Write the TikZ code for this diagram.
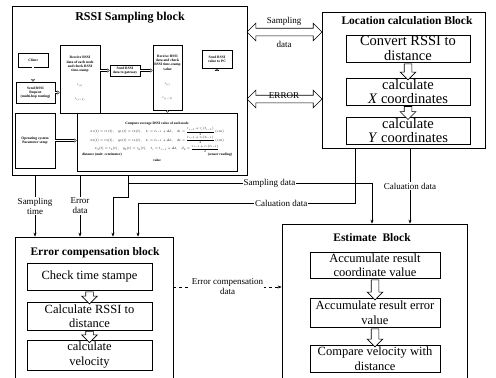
\documentclass[tikz,border=0pt]{standalone}
\usepackage{amsmath}
\usepackage{graphicx}
\usepackage{fontspec}
\setmainfont{Liberation Serif}
\usetikzlibrary{shapes.arrows,calc,arrows.meta}

\begin{document}
\begin{tikzpicture}[x=1pt,y=-1pt,
  block/.style={draw, line width=0.7pt},
  title/.style={font=\fontsize{11.5}{13}\selectfont\bfseries},
  box/.style={draw, line width=0.6pt, align=center, inner sep=1pt, font=\fontsize{12.5}{14.5}\selectfont},
  sbox/.style={draw, line width=0.5pt, align=center, inner sep=0.5pt, font=\fontsize{3.6}{4.2}\selectfont\bfseries},
  fat/.style={single arrow, draw, fill=white, line width=0.6pt, shape border rotate=270, inner sep=3.5pt, single arrow head extend=4pt, single arrow tip angle=90},
  wide/.style={double arrow, draw, line width=0.6pt, inner sep=3.5pt, double arrow head extend=5pt},
  dbl/.style={double, double distance=1.3pt, line width=0.4pt, -{Triangle[open,length=2.5pt,width=4pt]}},
  link/.style={line width=0.5pt},
  lab/.style={fill=white, inner sep=1pt, align=center, font=\fontsize{9}{10}\selectfont},
  >={Stealth[length=4pt,width=3pt]}]
\useasboundingbox (0,0) rectangle (496,378);
\clip (0,0) rectangle (496,378);

% outer blocks
\node[block, minimum width=235pt, minimum height=169pt] (rssi) at (129.5,90.5) {};
\node[block, minimum width=163pt, minimum height=136pt] (loc) at (403.5,80) {};
\node[block, minimum width=158pt, minimum height=146pt] (err) at (94,310) {};
\node[block, minimum width=185pt, minimum height=159pt] (est) at (374.5,303.5) {};
\node[title, font=\fontsize{12}{13}\selectfont\bfseries] (rssiT) at (130,18) {RSSI Sampling block};
\node[title] (locT) at (407,21) {Location calculation Block};
\node[title] (errT) at (95,253) {Error compensation block};
\node[title] (estT) at (372,238) {Estimate\ \ Block};

% RSSI sampling block, inside
\node[sbox, minimum width=30pt, minimum height=14pt] (c1) at (33,60) {Client};
\node[sbox, minimum width=39pt, minimum height=21pt] (c2) at (35.5,92.5) {Send RSSI\\Request\\(multi-hop routing)};
\node[sbox, minimum width=40pt, minimum height=68pt] (c3) at (80,79) {Receive RSSI\\data of each node\\and check RSSI\\time-stamp\\[10pt]\scalebox{0.5}{$t_{(i)}$}\\[10pt]\scalebox{0.5}{$t_{(i-1)}$}};
\node[sbox, minimum width=30pt, minimum height=11pt] (c4) at (125,70.5) {Send RSSI\\data to gateway};
\node[sbox, minimum width=29pt, minimum height=65pt] (c5) at (167.5,77.5) {Receive RSSI\\data and check\\RSSI time-stamp\\value\\[10pt]\scalebox{0.5}{$t_{(i)}$}\\[10pt]\scalebox{0.5}{$t_{(i-1)}$}};
\node[sbox, minimum width=30pt, minimum height=18pt] (c6) at (217,59) {Send RSSI\\value to PC};
\node[sbox, minimum width=40pt, minimum height=55pt] (c7) at (35,140.5) {Operating system\\Parameter setup};
\node[sbox, minimum width=160pt, minimum height=58pt, inner sep=1pt] (c8) at (157,142) {\scalebox{0.5}{\fontsize{7}{9}\selectfont
  \begin{tabular}{@{}c@{}}
  \textbf{Compute average RSSI value of each node}\\[3pt]
  $x_1(t)=r_1(t),\quad y_1(t)=r_2(t),\quad t_i=t_{i-1}+\Delta t,\quad d_1=\dfrac{r_{i-1}+r_i(t_{i-1})}{2}\;(cm)$\\[4pt]
  $x_2(t)=r_3(t),\quad y_2(t)=r_4(t),\quad t_i=t_{i-1}+\Delta t,\quad d_2=\dfrac{r_{i-1}+r_i(t_{i-1})}{2}\;(cm)$\\[4pt]
  $x_3(t)=r_5(t),\quad y_3(t)=r_6(t),\quad t_i=t_{i-1}+\Delta t,\quad d_3=\dfrac{r_{i-1}+r_i(t_{i-1})}{2}$\\
  \makebox[300pt]{\textbf{distance (unit: centimeter)}\hfill\textbf{(sensor reading)}}\\[3pt]
  \textbf{value}
  \end{tabular}}};
\draw[dbl] (c1.south) -- (c1.south |- c2.north);
\draw[dbl] (c2.east) -- (c2.east -| c3.west);
\draw[dbl] (c3.east |- c4.west) -- (c4.west);
\draw[dbl] (c4.east) -- (c4.east -| c5.west);
\draw[dbl] (c5.south) -- (c5.south |- c8.north);
\draw[dbl] (c6.south |- c8.north) -- (c6.south);
\draw[dbl] (c7.east) -- (c7.east -| c8.west);

% location calculation block, inside
\node[box, font=\fontsize{14.5}{14.5}\selectfont, minimum width=124pt, minimum height=27pt] (conv) at (408,48.5) {Convert RSSI to\\distance};
\node[box, font=\fontsize{14.5}{14.5}\selectfont, minimum width=124pt, minimum height=27pt] (calx) at (408,91.5) {calculate\\\textit{X} coordinates};
\node[box, font=\fontsize{14.5}{14.5}\selectfont, minimum width=124pt, minimum height=25pt] (caly) at (408,130.5) {calculate\\\textit{Y} coordinates};
\node[fat, minimum height=16pt] (l1) at ($(conv.south)!.5!(calx.north)$) {};
\node[fat, minimum height=13pt] (l2) at ($(calx.south)!.5!(caly.north)$) {};

% error compensation block, inside
\node[box, minimum width=125pt, minimum height=27pt] (chk) at (89.5,276.5) {Check time stampe};
\node[box, minimum width=125pt, minimum height=28pt] (crd) at (89.5,316) {Calculate RSSI to\\distance};
\node[box, minimum width=125pt, minimum height=30pt] (vel) at (89.5,355) {calculate\\velocity};
\node[fat, minimum height=12pt] (e1) at ($(chk.south)!.5!(crd.north)$) {};
\node[fat, minimum height=10pt] (e2) at ($(crd.south)!.5!(vel.north)$) {};

% estimate block, inside
\node[box, minimum width=130pt, minimum height=26pt] (acc) at (375,265) {Accumulate result\\coordinate value};
\node[box, minimum width=130pt, minimum height=29pt] (accerr) at (375,312.5) {Accumulate result error\\value};
\node[box, minimum width=130pt, minimum height=27pt] (cmp) at (375,358.5) {Compare velocity with\\distance};
\node[fat, minimum height=20pt] (s1) at ($(acc.south)!.5!(accerr.north)$) {};
\node[fat, minimum height=18pt] (s2) at ($(accerr.south)!.5!(cmp.north)$) {};

% data between blocks
\node[wide, minimum height=75pt] (sd) at ($(rssi.east |- 0,32)!.5!(loc.west |- 0,32)$) {};
\node[wide, minimum height=75pt] (er) at ($(rssi.east |- 0,99)!.5!(loc.west |- 0,99)$) {};
\node[lab, fill=none] (sdA) at (284,21) {Sampling};
\node[lab, fill=none] (sdB) at (284,44) {data};
\node[lab, fill=none] (erA) at (284,95.5) {ERROR};

\coordinate (sj) at (128,183);
\draw[->, link] (rssi.south -| 35,0) -- node[lab]{Sampling\\time} (err.north -| 35,0);
\draw[->, link] (rssi.south -| 80,0) -- node[lab]{Error\\data} (err.north -| 80,0);
\draw[->, link] (rssi.south -| 128,0) -- (128,197) -| (err.north -| 113,0);
\draw[->, link] (sj) -| node[lab, pos=0.29]{Sampling data} (est.north -| 372,0);
\draw[->, link] (loc.south -| 355,0) -- (355,203) -| node[lab, pos=0.17]{Caluation data} (err.north -| 138,0);
\draw[->, link] (loc.south -| 410,0) -- node[lab]{Caluation data} (est.north -| 410,0);
\draw[->, link, dashed] (err.east |- 0,287) -- node[lab]{Error compensation\\data} (est.west |- 0,287);
\end{tikzpicture}
\end{document}
